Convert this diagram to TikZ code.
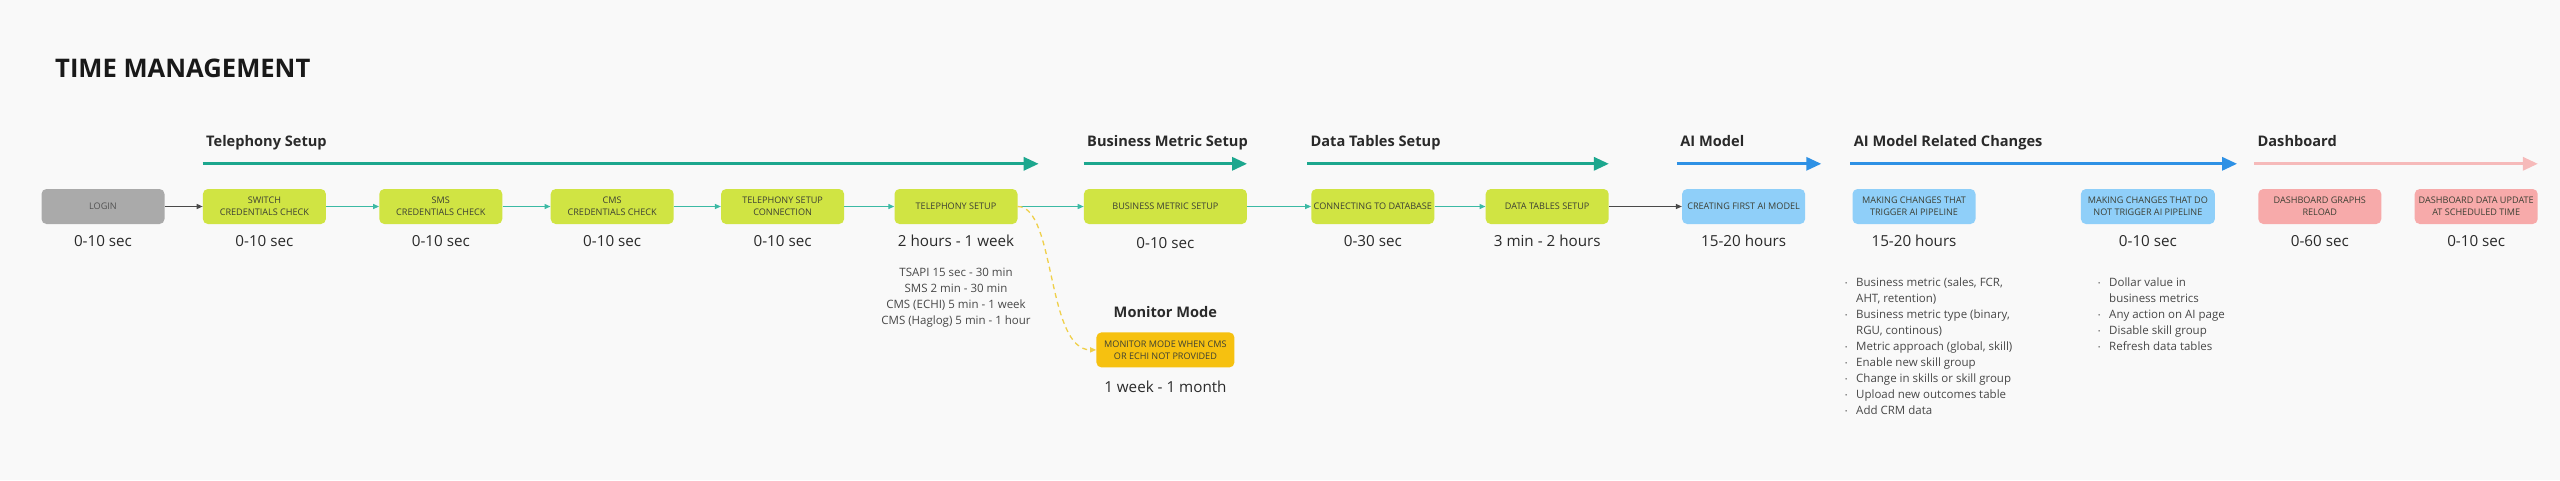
\documentclass[tikz,border=0pt]{standalone}
\usepackage{fontspec}
\setmainfont{Open Sans}
\usetikzlibrary{positioning, arrows.meta}

\definecolor{paper}{HTML}{F9F9F9}
\definecolor{stagegreen}{HTML}{D0E443}
\definecolor{logingray}{HTML}{AAAAAA}
\definecolor{aiblue}{HTML}{8FCFF9}
\definecolor{dashpink}{HTML}{F7AAAA}
\definecolor{monitorgold}{HTML}{F6C110}
\definecolor{phaseteal}{HTML}{1CA78E}
\definecolor{phaseblue}{HTML}{2E91E5}
\definecolor{phasepink}{HTML}{F6BABA}
\definecolor{linkteal}{HTML}{3CBAA5}
\definecolor{linkgray}{HTML}{4A4A4A}
\definecolor{monitordash}{HTML}{F0D04A}
\definecolor{boxtext}{HTML}{3C3F33}
\definecolor{timetext}{HTML}{2A2A2A}
\definecolor{notetext}{HTML}{474747}

\newcommand{\bitem}{\makebox[11pt][l]{\raisebox{1.2pt}{\fontsize{6}{6}\selectfont\textbullet}}}
\newcommand{\bcont}{\hspace*{11pt}}

\begin{document}
\begin{tikzpicture}[x=1pt, y=-1pt, font=\fontsize{11.5}{16}\selectfont,
  stage/.style={rectangle, rounded corners=5pt, minimum width=123pt, minimum height=35pt,
                inner sep=2pt, align=center, fill=stagegreen, text=boxtext,
                font=\fontsize{9.1}{12.3}\selectfont},
  duration/.style={below=11pt of #1, inner sep=0pt, text=timetext,
                   font=\fontsize{15.2}{18}\selectfont},
  link/.style={-{Triangle[length=6pt, width=5pt]}, line width=1.3pt, draw=linkteal},
  phase/.style={-{Triangle[length=15pt, width=13pt]}, line width=3pt},
  phasetitle/.style={pos=0, anchor=base west, inner sep=0pt, xshift=2pt, yshift=17pt, text=timetext,
                     font=\fontsize{14.6}{17}\selectfont\bfseries},
  note/.style={inner sep=0pt, align=center, text=notetext, font=\fontsize{11.5}{16}\selectfont},
  bullets/.style={inner sep=0pt, align=left, anchor=north west, text=notetext,
                  font=\fontsize{11.5}{16}\selectfont},
]
  \fill[paper] (0,0) rectangle (2560,480);
  \useasboundingbox (0,0) rectangle (2560,480);

  \node[anchor=base west, inner sep=0pt, text=black!90, font=\fontsize{25.6}{30}\selectfont\bfseries]
    (title) at (55,77) {TIME MANAGEMENT};

  % stages, left to right
  \node[stage, fill=logingray, text=black!68] (login) at (103,206.5) {LOGIN};
  \node[stage, right=38pt of login] (switch) {SWITCH\\CREDENTIALS CHECK};
  \node[stage, right=53pt of switch] (sms) {SMS\\CREDENTIALS CHECK};
  \node[stage, right=48pt of sms] (cms) {CMS\\CREDENTIALS CHECK};
  \node[stage, right=47pt of cms] (tsc) {TELEPHONY SETUP\\CONNECTION};
  \node[stage, right=50pt of tsc] (ts) {TELEPHONY SETUP};
  \node[stage, right=66pt of ts, minimum width=163pt] (bms) {BUSINESS METRIC SETUP};
  \node[stage, right=64pt of bms] (ctd) {CONNECTING TO DATABASE};
  \node[stage, right=51pt of ctd] (dts) {DATA TABLES SETUP};
  \node[stage, right=73pt of dts, fill=aiblue] (cfai) {CREATING FIRST AI MODEL};
  \node[stage, right=47pt of cfai, fill=aiblue] (mct) {MAKING CHANGES THAT\\TRIGGER AI PIPELINE};
  \node[stage, right=105pt of mct, fill=aiblue, minimum width=134pt] (mcd)
    {MAKING CHANGES THAT DO\\NOT TRIGGER AI PIPELINE};
  \node[stage, right=43pt of mcd, fill=dashpink] (dgr) {DASHBOARD GRAPHS\\RELOAD};
  \node[stage, right=33pt of dgr, fill=dashpink] (ddu) {DASHBOARD DATA UPDATE\\AT SCHEDULED TIME};
  \node[stage, below=108pt of bms, fill=monitorgold, minimum width=138pt] (mon)
    {MONITOR MODE WHEN CMS\\OR ECHI NOT PROVIDED};

  % durations
  \node[duration=login] (login time) {0-10 sec};
  \node[duration=switch] (switch time) {0-10 sec};
  \node[duration=sms] (sms time) {0-10 sec};
  \node[duration=cms] (cms time) {0-10 sec};
  \node[duration=tsc] (tsc time) {0-10 sec};
  \node[duration=ts] (ts time) {2 hours - 1 week};
  \node[duration=bms, yshift=-2pt] (bms time) {0-10 sec};
  \node[duration=ctd] (ctd time) {0-30 sec};
  \node[duration=dts] (dts time) {3 min - 2 hours};
  \node[duration=cfai] (cfai time) {15-20 hours};
  \node[duration=mct] (mct time) {15-20 hours};
  \node[duration=mcd] (mcd time) {0-10 sec};
  \node[duration=dgr] (dgr time) {0-60 sec};
  \node[duration=ddu] (ddu time) {0-10 sec};
  \node[duration=mon, below=13pt of mon] (mon time) {1 week - 1 month};

  \node[note, below=21pt of ts time] (ts note)
    {TSAPI 15 sec - 30 min\\SMS 2 min - 30 min\\CMS (ECHI) 5 min - 1 week\\CMS (Haglog) 5 min - 1 hour};
  \node[inner sep=0pt, above=14pt of mon, text=timetext,
        font=\fontsize{14.6}{17}\selectfont\bfseries] (mon title) {Monitor Mode};

  \node[bullets] (trigger list) at (1845,278)
    {\bitem Business metric (sales, FCR,\\ \bcont AHT, retention)\\
     \bitem Business metric type (binary,\\ \bcont RGU, continous)\\
     \bitem Metric approach (global, skill)\\
     \bitem Enable new skill group\\
     \bitem Change in skills or skill group\\
     \bitem Upload new outcomes table\\
     \bitem Add CRM data};
  \node[bullets] (no trigger list) at (2098,278)
    {\bitem Dollar value in\\ \bcont business metrics\\
     \bitem Any action on AI page\\
     \bitem Disable skill group\\
     \bitem Refresh data tables};

  % phases
  \draw[phase, phaseteal] ([yshift=25pt]switch.north west) -- ([xshift=21pt, yshift=25pt]ts.north east)
    node[phasetitle]{Telephony Setup};
  \draw[phase, phaseteal] ([yshift=25pt]bms.north west) -- ([yshift=25pt]bms.north east)
    node[phasetitle]{Business Metric Setup};
  \draw[phase, phaseteal] ([xshift=-4pt, yshift=25pt]ctd.north west) -- ([yshift=25pt]dts.north east)
    node[phasetitle]{Data Tables Setup};
  \draw[phase, phaseblue] ([xshift=-5pt, yshift=25pt]cfai.north west) -- ([xshift=16pt, yshift=25pt]cfai.north east)
    node[phasetitle]{AI Model};
  \draw[phase, phaseblue] ([xshift=-2pt, yshift=25pt]mct.north west) -- ([xshift=22pt, yshift=25pt]mcd.north east)
    node[phasetitle]{AI Model Related Changes};
  \draw[phase, phasepink] ([xshift=-4pt, yshift=25pt]dgr.north west) -- ([yshift=25pt]ddu.north east)
    node[phasetitle]{Dashboard};

  % links between stages
  \draw[link, draw=linkgray] (login) -- (switch);
  \draw[link] (switch) -- (sms);
  \draw[link] (sms) -- (cms);
  \draw[link] (cms) -- (tsc);
  \draw[link] (tsc) -- (ts);
  \draw[link] (ts) -- (bms);
  \draw[link] (bms) -- (ctd);
  \draw[link] (ctd) -- (dts);
  \draw[link, draw=linkgray] (dts) -- (cfai);
  % fallback when CMS/ECHI is missing
  \draw[link, draw=monitordash, dash pattern=on 5pt off 4pt]
    (ts.east) .. controls +(38,0) and +(-50,0) .. (mon.west);
\end{tikzpicture}
\end{document}
